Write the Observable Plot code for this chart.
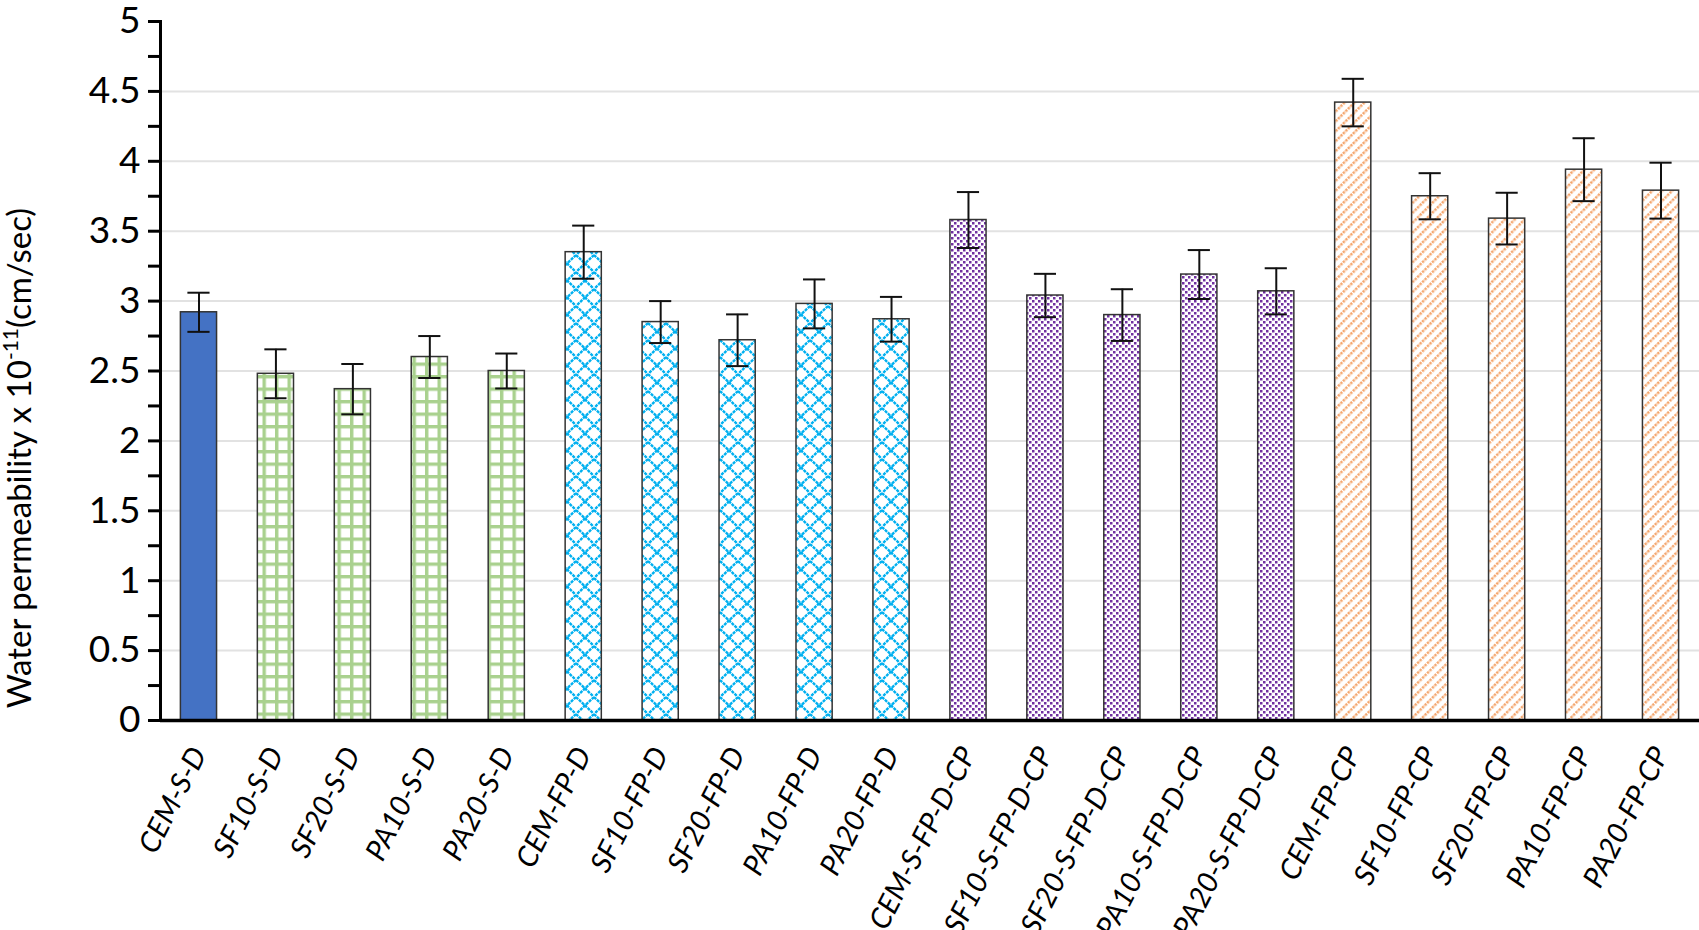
<!DOCTYPE html>
<html><head><meta charset="utf-8">
<script src="https://cdn.jsdelivr.net/npm/d3@7"></script>
<script src="https://cdn.jsdelivr.net/npm/@observablehq/plot@0.6"></script>
<style>
html,body{margin:0;padding:0;background:#fff;}
#chart{width:1699px;height:930px;overflow:hidden;}
</style></head><body><div id="chart"></div>
<script>
const categories = ["CEM-S-D","SF10-S-D","SF20-S-D","PA10-S-D","PA20-S-D",
  "CEM-FP-D","SF10-FP-D","SF20-FP-D","PA10-FP-D","PA20-FP-D",
  "CEM-S-FP-D-CP","SF10-S-FP-D-CP","SF20-S-FP-D-CP","PA10-S-FP-D-CP","PA20-S-FP-D-CP",
  "CEM-FP-CP","SF10-FP-CP","SF20-FP-CP","PA10-FP-CP","PA20-FP-CP"];
const values = [2.92,2.48,2.37,2.60,2.50, 3.35,2.85,2.72,2.98,2.87, 3.58,3.04,2.90,3.19,3.07, 4.42,3.75,3.59,3.94,3.79];
const errors = [0.14,0.175,0.18,0.15,0.125, 0.19,0.15,0.185,0.175,0.16, 0.20,0.155,0.185,0.175,0.165, 0.17,0.165,0.185,0.225,0.20];
const groupNames = ["solid","grid","trellis","check","stripe"];
const groupOf = [0,1,1,1,1, 2,2,2,2,2, 3,3,3,3,3, 4,4,4,4,4];
const groupFills = ["#4472c4","url(#pGrid)","url(#pTrellis)","url(#pCheck)","url(#pStripe)"];
const yTicks = [0,0.5,1,1.5,2,2.5,3,3.5,4,4.5,5];
const yGridTicks = [0.5,1,1.5,2,2.5,3,3.5,4,4.5];
const yMinorTicks = [0.25,0.75,1.25,1.75,2.25,2.75,3.25,3.75,4.25,4.75];
const yTitleMain = "Water permeability x 10";
const yTitleSup = "-11";
const yTitleUnit = "(cm/sec)";

const data = categories.map((c,i)=>({cat:c, v:values[i], e:errors[i], g:groupNames[groupOf[i]]}));

const plot = Plot.plot({
  width:1699, height:930,
  marginLeft:160, marginRight:0, marginTop:21, marginBottom:210,
  style:{fontFamily:"Lato, sans-serif", background:"#fff", color:"#000", overflow:"visible"},
  x:{domain:categories, paddingInner:0.53, paddingOuter:0.265, round:false, label:null},
  y:{domain:[0,5], label:null},
  color:{domain:groupNames, range:groupFills},
  marks:[
    Plot.gridY(yGridTicks, {stroke:"#e2e2e2", strokeOpacity:1, strokeWidth:2}),
    Plot.barY(data,{x:"cat", y:"v", fill:"g", stroke:"#333", strokeWidth:1.5}),
    Plot.ruleX(data,{x:"cat", y1:d=>d.v-d.e, y2:d=>d.v+d.e, stroke:"#111", strokeWidth:2}),
    Plot.tickY(data,{x:"cat", y:d=>d.v+d.e, stroke:"#111", strokeWidth:2, insetLeft:7, insetRight:7}),
    Plot.tickY(data,{x:"cat", y:d=>d.v-d.e, stroke:"#111", strokeWidth:2, insetLeft:7, insetRight:7}),
    Plot.axisY(yTicks, {tickSize:12, tickPadding:8, strokeWidth:3, fontSize:37, tickFormat:d=>String(d), label:null}),
    Plot.axisY(yMinorTicks, {tickSize:12, strokeWidth:3, tickFormat:()=>"", label:null}),
    Plot.axisX({tickSize:0, tickPadding:29, tickRotate:-63, fontSize:29, fontStyle:"italic", label:null}),
    Plot.frame({anchor:"left", stroke:"#000", strokeWidth:3}),
    Plot.ruleY([0], {stroke:"#000", strokeWidth:3.5})
  ]
});
document.getElementById("chart").appendChild(plot);

const svg = d3.select(plot);
svg.selectAll("[aria-label='x-axis tick label'] text").style("font-style","italic");
const defs = svg.insert("defs", ":first-child");
// green grid
const pg = defs.append("pattern").attr("id","pGrid").attr("patternUnits","userSpaceOnUse").attr("width",12.5).attr("height",12.5);
pg.append("rect").attr("width",12.5).attr("height",12.5).attr("fill","#fff");
pg.append("path").attr("d","M0,1.7H12.5M1.7,0V12.5").attr("stroke","#a9d18e").attr("stroke-width",3.4).attr("fill","none");
// blue trellis
const pt = defs.append("pattern").attr("id","pTrellis").attr("patternUnits","userSpaceOnUse").attr("width",18).attr("height",17);
pt.append("rect").attr("width",18).attr("height",17).attr("fill","#fff");
pt.append("path").attr("d","M0,0L18,17M18,0L0,17").attr("stroke","#00b0f0").attr("stroke-width",2.4).attr("stroke-dasharray","3,1").attr("fill","none");
// purple check
const pc = defs.append("pattern").attr("id","pCheck").attr("patternUnits","userSpaceOnUse").attr("width",6).attr("height",6);
pc.append("rect").attr("width",6).attr("height",6).attr("fill","#fff");
pc.append("rect").attr("x",0).attr("y",0).attr("width",2.5).attr("height",2.5).attr("fill","#7030a0");
pc.append("rect").attr("x",3).attr("y",3).attr("width",2.5).attr("height",2.5).attr("fill","#7030a0");
// orange stripes
const ps = defs.append("pattern").attr("id","pStripe").attr("patternUnits","userSpaceOnUse").attr("width",7).attr("height",7).attr("patternTransform","rotate(45)");
ps.append("rect").attr("width",7).attr("height",7).attr("fill","#fff");
ps.append("line").attr("x1",1.3).attr("x2",1.3).attr("y1",0).attr("y2",7).attr("stroke","#f4a46a").attr("stroke-width",2.4).attr("stroke-dasharray","2.5,1");

// y-axis title
const t = svg.append("text").attr("transform","translate(31,458) rotate(-90)")
  .attr("text-anchor","middle").attr("font-family","Lato, sans-serif").attr("font-size",33).attr("fill","#000");
t.append("tspan").text(yTitleMain);
t.append("tspan").attr("dy",-13).attr("font-size",21).text(yTitleSup);
t.append("tspan").attr("dy",13).attr("font-size",33).text(yTitleUnit);
</script>
</body></html>
